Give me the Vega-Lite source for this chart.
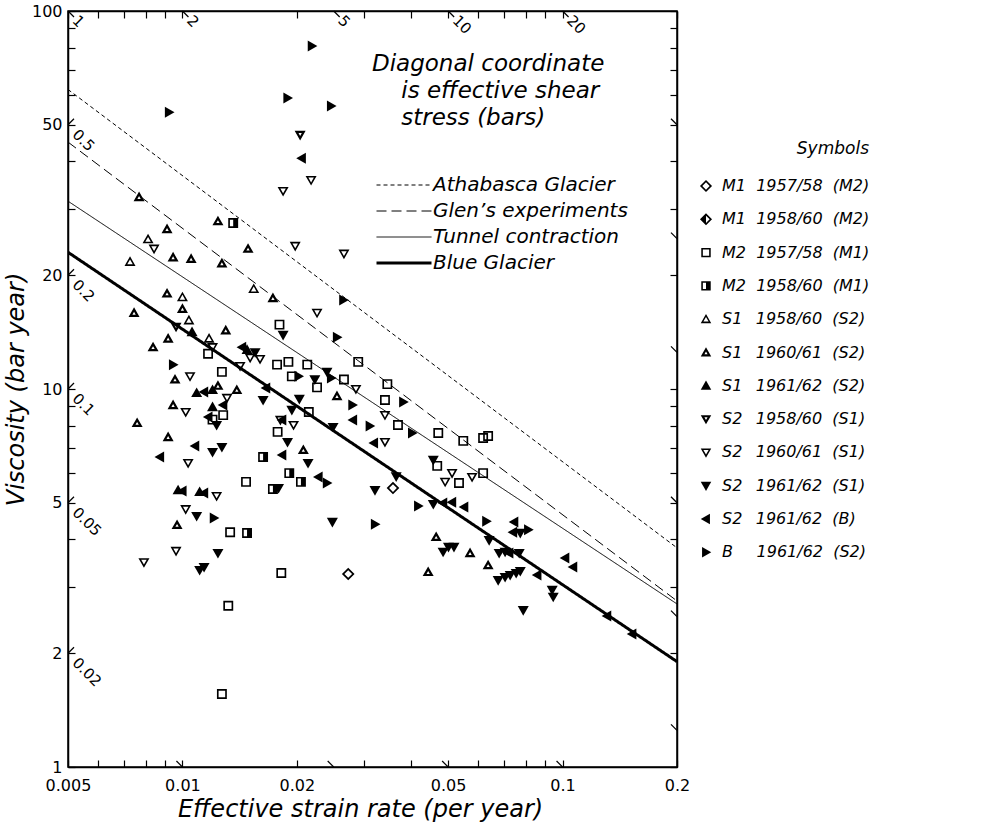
{
  "$schema": "https://vega.github.io/schema/vega-lite/v6.json",
  "width": 609,
  "height": 756,
  "autosize": "none",
  "padding": {"left": 68, "top": 11, "right": 312, "bottom": 61},
  "background": "white",
  "config": {
    "font": "DejaVu Sans",
    "view": {"stroke": "black", "strokeWidth": 1.5},
    "axis": {"grid": false, "domainColor": "black", "domainWidth": 1.5, "tickColor": "black", "tickWidth": 1.2, "labelColor": "black", "titleColor": "black", "labelFont": "DejaVu Sans", "titleFont": "DejaVu Sans"},
    "legend": {"labelColor": "black", "titleColor": "black", "labelFont": "DejaVu Sans", "titleFont": "DejaVu Sans", "labelLimit": 400, "titleLimit": 400}
  },
  "datasets": {
    "lines": [
      {"line": "Athabasca Glacier", "x": 0.005, "y": 62},
      {"line": "Athabasca Glacier", "x": 0.2, "y": 3.8},
      {"line": "Glen’s experiments", "x": 0.005, "y": 45},
      {"line": "Glen’s experiments", "x": 0.2, "y": 2.75},
      {"line": "Tunnel contraction", "x": 0.005, "y": 31.4},
      {"line": "Tunnel contraction", "x": 0.2, "y": 2.7},
      {"line": "Blue Glacier", "x": 0.005, "y": 23},
      {"line": "Blue Glacier", "x": 0.2, "y": 1.9}
    ],
    "dlab": [
      {"x": 0.005, "y": 100, "t": "1"},
      {"x": 0.01, "y": 100, "t": "2"},
      {"x": 0.025, "y": 100, "t": "5"},
      {"x": 0.05, "y": 100, "t": "10"},
      {"x": 0.1, "y": 100, "t": "20"},
      {"x": 0.005, "y": 50, "t": "0.5"},
      {"x": 0.005, "y": 20, "t": "0.2"},
      {"x": 0.005, "y": 10, "t": "0.1"},
      {"x": 0.005, "y": 5, "t": "0.05"},
      {"x": 0.005, "y": 2, "t": "0.02"}
    ],
    "dtick": [
      {"x": 0.005, "y": 100, "side": "t"},
      {"x": 0.01, "y": 100, "side": "t"},
      {"x": 0.025, "y": 100, "side": "t"},
      {"x": 0.05, "y": 100, "side": "t"},
      {"x": 0.1, "y": 100, "side": "t"},
      {"x": 0.005, "y": 50, "side": "l"},
      {"x": 0.005, "y": 20, "side": "l"},
      {"x": 0.005, "y": 10, "side": "l"},
      {"x": 0.005, "y": 5, "side": "l"},
      {"x": 0.005, "y": 2, "side": "l"},
      {"x": 0.01, "y": 1, "side": "b"},
      {"x": 0.025, "y": 1, "side": "b"},
      {"x": 0.05, "y": 1, "side": "b"},
      {"x": 0.1, "y": 1, "side": "b"},
      {"x": 0.2, "y": 50, "side": "b"},
      {"x": 0.2, "y": 25, "side": "b"},
      {"x": 0.2, "y": 12.5, "side": "b"},
      {"x": 0.2, "y": 5, "side": "b"},
      {"x": 0.2, "y": 2.5, "side": "b"},
      {"x": 0.2, "y": 1.25, "side": "b"}
    ],
    "pts": [
      {"x": 0.0219, "y": 80.8, "s": "R"},
      {"x": 0.0189, "y": 58.9, "s": "R"},
      {"x": 0.0246, "y": 56.1, "s": "R"},
      {"x": 0.00922, "y": 54.0, "s": "R"},
      {"x": 0.0204, "y": 47.0, "s": "V0"},
      {"x": 0.0206, "y": 40.8, "s": "L"},
      {"x": 0.0218, "y": 35.7, "s": "V1"},
      {"x": 0.0184, "y": 33.4, "s": "V1"},
      {"x": 0.00769, "y": 32.2, "s": "U1"},
      {"x": 0.0124, "y": 27.8, "s": "U1"},
      {"x": 0.0136, "y": 27.5, "s": "Q1"},
      {"x": 0.00911, "y": 26.5, "s": "U1"},
      {"x": 0.00812, "y": 24.9, "s": "U0"},
      {"x": 0.00842, "y": 23.5, "s": "V1"},
      {"x": 0.01488, "y": 23.5, "s": "U1"},
      {"x": 0.0198, "y": 23.9, "s": "V1"},
      {"x": 0.0266, "y": 22.8, "s": "V1"},
      {"x": 0.00945, "y": 22.3, "s": "U1"},
      {"x": 0.01054, "y": 22.1, "s": "U1"},
      {"x": 0.00728, "y": 21.7, "s": "U0"},
      {"x": 0.0127, "y": 21.5, "s": "U1"},
      {"x": 0.0154, "y": 18.4, "s": "U0"},
      {"x": 0.0173, "y": 17.4, "s": "U1"},
      {"x": 0.0265, "y": 17.2, "s": "R"},
      {"x": 0.0226, "y": 15.9, "s": "V1"},
      {"x": 0.00911, "y": 17.9, "s": "U1"},
      {"x": 0.0100, "y": 17.5, "s": "U0"},
      {"x": 0.0100, "y": 16.3, "s": "U1"},
      {"x": 0.00746, "y": 15.9, "s": "U1"},
      {"x": 0.0104, "y": 15.2, "s": "U0"},
      {"x": 0.00962, "y": 14.6, "s": "V0"},
      {"x": 0.0130, "y": 14.3, "s": "U1"},
      {"x": 0.0106, "y": 14.15, "s": "U2"},
      {"x": 0.0180, "y": 14.8, "s": "Q0"},
      {"x": 0.0184, "y": 13.9, "s": "V2"},
      {"x": 0.0255, "y": 13.7, "s": "R"},
      {"x": 0.00917, "y": 13.6, "s": "U1"},
      {"x": 0.00837, "y": 12.9, "s": "U1"},
      {"x": 0.01175, "y": 13.6, "s": "U0"},
      {"x": 0.0120, "y": 12.9, "s": "V1"},
      {"x": 0.01168, "y": 12.4, "s": "Q0"},
      {"x": 0.01435, "y": 12.9, "s": "L"},
      {"x": 0.01479, "y": 12.7, "s": "U2"},
      {"x": 0.01553, "y": 12.5, "s": "V2"},
      {"x": 0.01507, "y": 12.1, "s": "V1"},
      {"x": 0.0160, "y": 12.0, "s": "V1"},
      {"x": 0.01418, "y": 11.5, "s": "V1"},
      {"x": 0.00945, "y": 11.6, "s": "R"},
      {"x": 0.0127, "y": 11.1, "s": "Q0"},
      {"x": 0.00956, "y": 10.6, "s": "U1"},
      {"x": 0.01047, "y": 10.8, "s": "V1"},
      {"x": 0.0290, "y": 11.8, "s": "Q0"},
      {"x": 0.01774, "y": 11.6, "s": "Q0"},
      {"x": 0.0190, "y": 11.8, "s": "Q0"},
      {"x": 0.0213, "y": 11.6, "s": "Q0"},
      {"x": 0.0194, "y": 10.8, "s": "Q0"},
      {"x": 0.0202, "y": 10.8, "s": "R"},
      {"x": 0.0223, "y": 10.6, "s": "V2"},
      {"x": 0.0226, "y": 10.1, "s": "Q0"},
      {"x": 0.0240, "y": 11.1, "s": "V2"},
      {"x": 0.0246, "y": 10.7, "s": "R"},
      {"x": 0.0266, "y": 10.6, "s": "Q0"},
      {"x": 0.0286, "y": 10.0, "s": "V1"},
      {"x": 0.0346, "y": 10.3, "s": "Q0"},
      {"x": 0.0255, "y": 9.58, "s": "U1"},
      {"x": 0.0280, "y": 9.07, "s": "R"},
      {"x": 0.0203, "y": 9.41, "s": "V2"},
      {"x": 0.0163, "y": 9.35, "s": "V2"},
      {"x": 0.0166, "y": 10.06, "s": "L"},
      {"x": 0.0215, "y": 8.69, "s": "Q0"},
      {"x": 0.0194, "y": 8.80, "s": "V2"},
      {"x": 0.0183, "y": 8.28, "s": "L"},
      {"x": 0.0196, "y": 8.03, "s": "V1"},
      {"x": 0.0281, "y": 8.28, "s": "L"},
      {"x": 0.0341, "y": 8.53, "s": "V1"},
      {"x": 0.0341, "y": 9.35, "s": "Q0"},
      {"x": 0.0311, "y": 7.98, "s": "R"},
      {"x": 0.0249, "y": 7.93, "s": "V2"},
      {"x": 0.0109, "y": 9.76, "s": "U2"},
      {"x": 0.0114, "y": 9.82, "s": "L"},
      {"x": 0.0120, "y": 9.94, "s": "U2"},
      {"x": 0.0124, "y": 10.2, "s": "U1"},
      {"x": 0.0139, "y": 9.94, "s": "U1"},
      {"x": 0.0131, "y": 9.47, "s": "V1"},
      {"x": 0.00945, "y": 9.07, "s": "U1"},
      {"x": 0.0102, "y": 8.69, "s": "V1"},
      {"x": 0.0120, "y": 8.96, "s": "U2"},
      {"x": 0.0128, "y": 9.07, "s": "L"},
      {"x": 0.0128, "y": 8.53, "s": "Q0"},
      {"x": 0.0117, "y": 8.43, "s": "L"},
      {"x": 0.0120, "y": 8.30, "s": "Q0"},
      {"x": 0.0123, "y": 8.03, "s": "V2"},
      {"x": 0.0076, "y": 8.13, "s": "U1"},
      {"x": 0.0178, "y": 7.70, "s": "Q0"},
      {"x": 0.0189, "y": 7.24, "s": "V2"},
      {"x": 0.0319, "y": 7.20, "s": "L"},
      {"x": 0.0341, "y": 7.24, "s": "V1"},
      {"x": 0.0208, "y": 6.90, "s": "U1"},
      {"x": 0.00917, "y": 7.46, "s": "U1"},
      {"x": 0.0108, "y": 7.07, "s": "L"},
      {"x": 0.0120, "y": 6.81, "s": "V2"},
      {"x": 0.0127, "y": 7.02, "s": "V2"},
      {"x": 0.00873, "y": 6.61, "s": "L"},
      {"x": 0.0181, "y": 8.28, "s": "V1"},
      {"x": 0.01035, "y": 6.37, "s": "V1"},
      {"x": 0.0163, "y": 6.61, "s": "Q1"},
      {"x": 0.0183, "y": 6.69, "s": "L"},
      {"x": 0.0214, "y": 6.37, "s": "V2"},
      {"x": 0.0191, "y": 5.99, "s": "Q1"},
      {"x": 0.0205, "y": 5.68, "s": "Q1"},
      {"x": 0.0228, "y": 5.85, "s": "L"},
      {"x": 0.0240, "y": 5.64, "s": "R"},
      {"x": 0.0147, "y": 5.68, "s": "Q0"},
      {"x": 0.0173, "y": 5.44, "s": "Q1"},
      {"x": 0.0179, "y": 5.47, "s": "V2"},
      {"x": 0.0321, "y": 5.40, "s": "V2"},
      {"x": 0.0358, "y": 5.47, "s": "D0"},
      {"x": 0.00974, "y": 5.40, "s": "U2"},
      {"x": 0.0100, "y": 5.37, "s": "L"},
      {"x": 0.0111, "y": 5.34, "s": "U2"},
      {"x": 0.0114, "y": 5.31, "s": "L"},
      {"x": 0.0123, "y": 5.21, "s": "V1"},
      {"x": 0.0102, "y": 4.81, "s": "V1"},
      {"x": 0.0109, "y": 4.61, "s": "V2"},
      {"x": 0.0121, "y": 4.56, "s": "R"},
      {"x": 0.00968, "y": 4.37, "s": "U1"},
      {"x": 0.01335, "y": 4.18, "s": "Q0"},
      {"x": 0.01479, "y": 4.16, "s": "Q1"},
      {"x": 0.0248, "y": 4.45, "s": "V2"},
      {"x": 0.0321, "y": 4.39, "s": "R"},
      {"x": 0.00962, "y": 3.73, "s": "V1"},
      {"x": 0.0124, "y": 3.68, "s": "V2"},
      {"x": 0.00792, "y": 3.48, "s": "V1"},
      {"x": 0.0114, "y": 3.38, "s": "V2"},
      {"x": 0.0111, "y": 3.32, "s": "V2"},
      {"x": 0.0182, "y": 3.26, "s": "Q0"},
      {"x": 0.0273, "y": 3.24, "s": "D0"},
      {"x": 0.0132, "y": 2.67, "s": "Q0"},
      {"x": 0.0127, "y": 1.56, "s": "Q0"},
      {"x": 0.0365, "y": 5.87, "s": "V2"},
      {"x": 0.0381, "y": 9.24, "s": "R"},
      {"x": 0.0369, "y": 8.03, "s": "Q0"},
      {"x": 0.0402, "y": 7.65, "s": "R"},
      {"x": 0.0471, "y": 7.65, "s": "Q0"},
      {"x": 0.0548, "y": 7.29, "s": "Q0"},
      {"x": 0.0618, "y": 7.42, "s": "Q0"},
      {"x": 0.0637, "y": 7.51, "s": "Q0"},
      {"x": 0.0457, "y": 6.49, "s": "V2"},
      {"x": 0.0468, "y": 6.26, "s": "Q0"},
      {"x": 0.0512, "y": 5.99, "s": "V1"},
      {"x": 0.0491, "y": 5.68, "s": "V1"},
      {"x": 0.0534, "y": 5.64, "s": "Q0"},
      {"x": 0.0578, "y": 5.85, "s": "V1"},
      {"x": 0.0618, "y": 5.99, "s": "Q0"},
      {"x": 0.0417, "y": 4.90, "s": "R"},
      {"x": 0.0457, "y": 4.96, "s": "V2"},
      {"x": 0.0485, "y": 4.99, "s": "L"},
      {"x": 0.0512, "y": 5.02, "s": "L"},
      {"x": 0.0551, "y": 4.87, "s": "L"},
      {"x": 0.0630, "y": 4.47, "s": "R"},
      {"x": 0.0746, "y": 4.45, "s": "L"},
      {"x": 0.0641, "y": 3.98, "s": "V2"},
      {"x": 0.0465, "y": 4.06, "s": "U1"},
      {"x": 0.0501, "y": 3.82, "s": "V2"},
      {"x": 0.0518, "y": 3.82, "s": "V2"},
      {"x": 0.0485, "y": 3.71, "s": "V2"},
      {"x": 0.0571, "y": 3.68, "s": "U1"},
      {"x": 0.0741, "y": 4.18, "s": "L"},
      {"x": 0.0774, "y": 4.16, "s": "V2"},
      {"x": 0.0812, "y": 4.24, "s": "R"},
      {"x": 0.0681, "y": 3.68, "s": "V2"},
      {"x": 0.0706, "y": 3.71, "s": "V2"},
      {"x": 0.0724, "y": 3.68, "s": "L"},
      {"x": 0.0769, "y": 3.68, "s": "V2"},
      {"x": 0.0637, "y": 3.42, "s": "U1"},
      {"x": 0.0443, "y": 3.28, "s": "U1"},
      {"x": 0.0677, "y": 3.12, "s": "V2"},
      {"x": 0.0706, "y": 3.18, "s": "V2"},
      {"x": 0.0728, "y": 3.22, "s": "V2"},
      {"x": 0.0755, "y": 3.26, "s": "V2"},
      {"x": 0.0774, "y": 3.30, "s": "V2"},
      {"x": 0.0858, "y": 3.22, "s": "L"},
      {"x": 0.1016, "y": 3.57, "s": "L"},
      {"x": 0.1066, "y": 3.38, "s": "L"},
      {"x": 0.0939, "y": 2.94, "s": "V2"},
      {"x": 0.0945, "y": 2.82, "s": "V2"},
      {"x": 0.0788, "y": 2.60, "s": "V2"},
      {"x": 0.131, "y": 2.51, "s": "L"},
      {"x": 0.1525, "y": 2.25, "s": "L"}
    ]
  },
  "layer": [
    {
      "data": {"name": "lines"},
      "mark": {"type": "line", "color": "black", "clip": true},
      "encoding": {
        "x": {
          "field": "x", "type": "quantitative",
          "scale": {"type": "log", "domain": [0.005, 0.2], "nice": false},
          "axis": {
            "orient": "bottom",
            "values": [0.005, 0.006, 0.007, 0.008, 0.009, 0.01, 0.02, 0.03, 0.04, 0.05, 0.06, 0.07, 0.08, 0.09, 0.1, 0.2],
            "format": "~g",
            "labelExpr": "indexof([0.005, 0.01, 0.02, 0.05, 0.1, 0.2], datum.value) >= 0 ? datum.label : ''",
            "labelOverlap": false, "labelFlush": false,
            "tickSize": -7, "labelPadding": 17, "labelFontSize": 16,
            "title": "Effective strain rate (per year)",
            "titleFontSize": 24, "titleFontStyle": "italic", "titleFontWeight": "normal",
            "titlePadding": 4, "titleX": 292
          }
        },
        "y": {
          "field": "y", "type": "quantitative",
          "scale": {"type": "log", "domain": [1, 100], "nice": false},
          "axis": {
            "orient": "left",
            "values": [1, 2, 3, 4, 5, 6, 7, 8, 9, 10, 20, 30, 40, 50, 60, 70, 80, 90, 100],
            "format": "~g",
            "labelExpr": "indexof([1, 2, 5, 10, 20, 50, 100], datum.value) >= 0 ? datum.label : ''",
            "labelOverlap": false, "labelFlush": false,
            "tickSize": -7, "labelPadding": 13, "labelFontSize": 16,
            "title": "Viscosity (bar year)",
            "titleFontSize": 24, "titleFontStyle": "italic", "titleFontWeight": "normal",
            "titlePadding": 3
          }
        },
        "strokeDash": {
          "field": "line", "type": "nominal",
          "scale": {
            "domain": ["Athabasca Glacier", "Glen’s experiments", "Tunnel contraction", "Blue Glacier"],
            "range": [[4, 3], [10, 5], [1, 0], [1, 0]]
          },
          "legend": {
            "orient": "none", "legendX": 304, "legendY": 42,
            "title": ["Diagonal coordinate", "\u200b\u00a0\u00a0\u00a0\u00a0is effective shear", "\u200b\u00a0\u00a0\u00a0\u00a0stress (bars)"],
            "titleFontSize": 23, "titleFontStyle": "italic", "titleFontWeight": "normal",
            "titleLineHeight": 27, "titlePadding": 45, "titleAnchor": "start", "titleAlign": "left",
            "labelFontSize": 20, "labelFontStyle": "italic",
            "symbolType": "M-1,0L9,0", "symbolSize": 121, "symbolStrokeColor": "black",
            "labelOffset": 41, "rowPadding": 6,
            "encode": {"symbols": {"update": {"strokeWidth": {"signal": "datum.value === 'Blue Glacier' ? 3 : 1"}, "stroke": {"value": "black"}}}}
          }
        },
        "strokeWidth": {"condition": {"test": "datum.line === 'Blue Glacier'", "value": 3}, "value": 1}
      }
    },
    {
      "data": {"name": "pts"},
      "mark": {"type": "point", "filled": true, "color": "black", "opacity": 1, "strokeWidth": 0, "size": 121},
      "encoding": {
        "x": {
          "field": "x", "type": "quantitative",
          "scale": {"type": "log", "domain": [0.005, 0.2], "nice": false},
          "axis": {
            "orient": "top",
            "values": [0.005, 0.006, 0.007, 0.008, 0.009, 0.01, 0.02, 0.03, 0.04, 0.05, 0.06, 0.07, 0.08, 0.09, 0.1, 0.2],
            "labels": false, "tickSize": -7, "title": null
          }
        },
        "y": {
          "field": "y", "type": "quantitative",
          "scale": {"type": "log", "domain": [1, 100], "nice": false},
          "axis": {
            "orient": "right",
            "values": [1, 2, 3, 4, 5, 6, 7, 8, 9, 10, 20, 30, 40, 50, 60, 70, 80, 90, 100],
            "labels": false, "tickSize": -7, "title": null
          }
        },
        "shape": {
          "field": "s", "type": "nominal",
          "scale": {
            "domain": ["D0", "D1", "Q0", "Q1", "U0", "U1", "U2", "V0", "V1", "V2", "L", "R"],
            "range": [
              "M0,-1.15L1.15,0L0,1.15L-1.15,0ZM0,-0.7L-0.7,0L0,0.7L0.7,0Z",
              "M0,-1.15L1.15,0L0,1.15L-1.15,0ZM0,-0.7L0,0.7L0.7,0Z",
              "M-0.9,-0.9L0.9,-0.9L0.9,0.9L-0.9,0.9ZM-0.6,-0.6L-0.6,0.6L0.6,0.6L0.6,-0.6Z",
              "M-0.9,-0.9L0.9,-0.9L0.9,0.9L-0.9,0.9ZM-0.6,-0.6L-0.6,0.6L0,0.6L0,-0.6Z",
              "M0,-1L1,0.75L-1,0.75ZM0,-0.417L-0.5,0.458L0.5,0.458Z",
              "M0,-1L1,0.75L-1,0.75ZM0,-0.183L-0.3,0.342L0.3,0.342Z",
              "M0,-1L1,0.75L-1,0.75Z",
              "M0,1L-1,-0.75L1,-0.75ZM0,0.183L0.3,-0.342L-0.3,-0.342Z",
              "M0,1L-1,-0.75L1,-0.75ZM0,0.417L0.5,-0.458L-0.5,-0.458Z",
              "M0,1L-1,-0.75L1,-0.75Z",
              "M-1,0L0.75,-1L0.75,1Z",
              "M1,0L-0.75,1L-0.75,-1Z"
            ]
          },
          "legend": {
            "orient": "none", "legendX": 630, "legendY": 130,
            "title": "Symbols\u00a0\u00a0\u00a0\u00a0\u00a0\u00a0\u00a0\u00a0", "titleAnchor": "end",
            "titleFontSize": 17, "titleFontStyle": "italic", "titleFontWeight": "normal", "titlePadding": 20,
            "labelFontSize": 16, "labelFontStyle": "italic", "labelOffset": 8, "rowPadding": 17.3,
            "symbolSize": 110, "symbolFillColor": "black", "symbolStrokeWidth": 0, "symbolOpacity": 1,
            "labelExpr": "['M1\u00a0\u00a01957/58\u00a0\u00a0(M2)', 'M1\u00a0\u00a01958/60\u00a0\u00a0(M2)', 'M2\u00a0\u00a01957/58\u00a0\u00a0(M1)', 'M2\u00a0\u00a01958/60\u00a0\u00a0(M1)', 'S1\u2009\u00a0\u00a01958/60\u00a0\u00a0(S2)', 'S1\u2009\u00a0\u00a01960/61\u00a0\u00a0(S2)', 'S1\u2009\u00a0\u00a01961/62\u00a0\u00a0(S2)', 'S2\u2009\u00a0\u00a01958/60\u00a0\u00a0(S1)', 'S2\u2009\u00a0\u00a01960/61\u00a0\u00a0(S1)', 'S2\u2009\u00a0\u00a01961/62\u00a0\u00a0(S1)', 'S2\u2009\u00a0\u00a01961/62\u00a0\u00a0(B)', 'B\u2007\u2009\u00a0\u00a01961/62\u00a0\u00a0(S2)'][indexof(['D0','D1','Q0','Q1','U0','U1','U2','V0','V1','V2','L','R'], datum.label)]"
          }
        }
      }
    },
    {
      "data": {"name": "dlab"},
      "mark": {"type": "text", "angle": 45, "align": "left", "baseline": "middle", "dx": 10, "fontSize": 15, "color": "black"},
      "encoding": {
        "x": {"field": "x", "type": "quantitative", "scale": {"type": "log", "domain": [0.005, 0.2], "nice": false}, "axis": null},
        "y": {"field": "y", "type": "quantitative", "scale": {"type": "log", "domain": [1, 100], "nice": false}, "axis": null},
        "text": {"field": "t", "type": "nominal"}
      }
    },
    {
      "data": {"name": "dtick"},
      "transform": [{"filter": "datum.side === 't'"}],
      "mark": {"type": "point", "shape": "M0,0L1,1", "filled": false, "stroke": "black", "strokeWidth": 1.2, "opacity": 1, "size": 144},
      "encoding": {
        "x": {"field": "x", "type": "quantitative", "scale": {"type": "log", "domain": [0.005, 0.2], "nice": false}, "axis": null},
        "y": {"field": "y", "type": "quantitative", "scale": {"type": "log", "domain": [1, 100], "nice": false}, "axis": null}
      }
    },
    {
      "data": {"name": "dtick"},
      "transform": [{"filter": "datum.side === 'l'"}],
      "mark": {"type": "point", "shape": "M0,0L1,-1", "filled": false, "stroke": "black", "strokeWidth": 1.2, "opacity": 1, "size": 144},
      "encoding": {
        "x": {"field": "x", "type": "quantitative", "scale": {"type": "log", "domain": [0.005, 0.2], "nice": false}, "axis": null},
        "y": {"field": "y", "type": "quantitative", "scale": {"type": "log", "domain": [1, 100], "nice": false}, "axis": null}
      }
    },
    {
      "data": {"name": "dtick"},
      "transform": [{"filter": "datum.side === 'b'"}],
      "mark": {"type": "point", "shape": "M0,0L-1,-1", "filled": false, "stroke": "black", "strokeWidth": 1.2, "opacity": 1, "size": 144},
      "encoding": {
        "x": {"field": "x", "type": "quantitative", "scale": {"type": "log", "domain": [0.005, 0.2], "nice": false}, "axis": null},
        "y": {"field": "y", "type": "quantitative", "scale": {"type": "log", "domain": [1, 100], "nice": false}, "axis": null}
      }
    }
  ],
  "resolve": {"axis": {"x": "independent", "y": "independent"}}
}
